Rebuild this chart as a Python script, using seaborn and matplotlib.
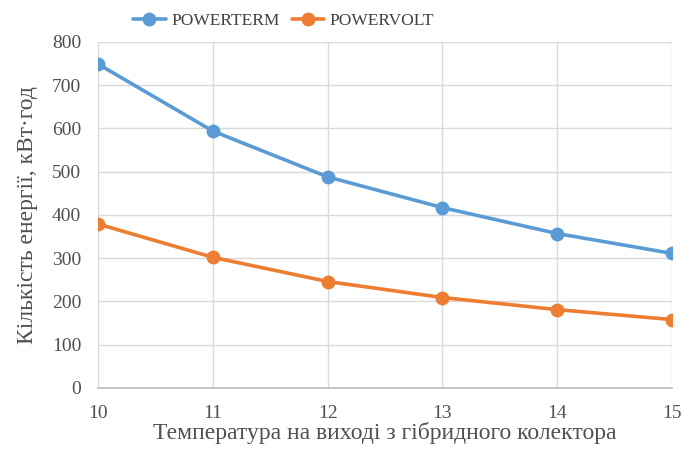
import matplotlib
matplotlib.use("Agg")
import matplotlib.pyplot as plt
import seaborn as sns
import pandas as pd

temps = [10, 11, 12, 13, 14, 15]
powerterm = [749, 594, 488, 417, 357, 311]
powervolt = [379, 302, 246, 209, 181, 158]
series_names = ["POWERTERM", "POWERVOLT"]
colors = ["#5B9BD5", "#ED7D31"]

df = pd.DataFrame({
    "T": temps * 2,
    "E": powerterm + powervolt,
    "s": [series_names[0]] * len(temps) + [series_names[1]] * len(temps),
})

sns.set_theme(style="white")
plt.rcParams["font.family"] = ["Liberation Serif", "DejaVu Serif"]

fig = plt.figure(figsize=(6.83, 4.5), dpi=100)
ax = fig.add_axes([0.1435, 0.138, 0.8405, 0.7687])

sns.lineplot(data=df, x="T", y="E", hue="s", palette=colors, marker="o",
             markersize=10, linewidth=2.6, markeredgewidth=0, ax=ax)

ax.set_xlim(10, 15)
ax.set_ylim(0, 800)
ax.set_xticks(temps)
ax.set_yticks(range(0, 801, 100))
ax.grid(True, color="#D9D9D9", linewidth=1)
for side in ["top", "right", "left"]:
    ax.spines[side].set_visible(False)
ax.spines["bottom"].set_color("#BFBFBF")
ax.tick_params(axis="both", labelsize=14, colors="#505050", length=0)
ax.tick_params(axis="x", pad=12)
ax.tick_params(axis="y", pad=12)
ax.set_xlabel("Температура на виході з гібридного колектора", fontsize=17,
              color="#505050", labelpad=0)
ax.set_ylabel("Кількість енергії, кВт·год", fontsize=17, color="#505050", labelpad=10)

h, l = ax.get_legend_handles_labels()
ax.legend(h, l, loc="upper center", bbox_to_anchor=(0.323, 1.13), ncol=2,
          frameon=False, fontsize=12.5, handlelength=1.9, handletextpad=0.3,
          columnspacing=0.7, labelcolor="#404040")

fig.savefig("out.png", dpi=100)
